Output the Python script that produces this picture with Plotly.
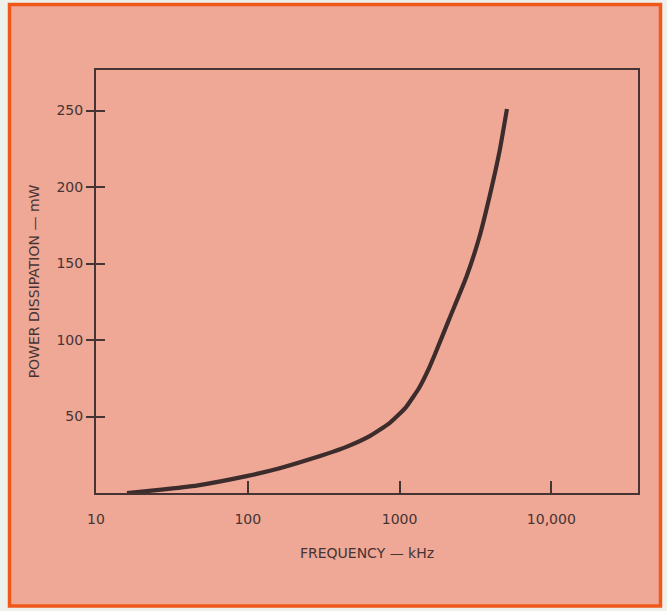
import plotly.graph_objects as go
import math

# Data
freq_khz = [16, 26, 47, 98, 160, 265, 442, 631, 855, 1100, 1350, 1570, 1700, 2130, 2750, 3350, 3920, 4570, 5100]
power_mw = [0, 2, 5, 11, 16, 22.5, 30, 37, 45.5, 56, 69, 82, 90, 114, 141, 167, 194, 224, 251]

x_tickvals = [10, 100, 1000, 10000]
x_ticktext = ["10", "100", "1000", "10,000"]
y_tickvals = [50, 100, 150, 200, 250]
y_ticktext = ["50", "100", "150", "200", "250"]

ink = "#463434"
salmon = "#efa796"
font = dict(family="DejaVu Sans, sans-serif", size=14, color=ink)

fig = go.Figure()
fig.add_trace(go.Scatter(
    x=freq_khz, y=power_mw, mode="lines",
    line=dict(color="#3c2c2c", width=4.2, shape="spline", smoothing=0.5),
    showlegend=False, hoverinfo="skip"))
# invisible trace to activate the overlay axis (inner half of y ticks)
fig.add_trace(go.Scatter(x=[freq_khz[0]], y=[power_mw[0]], yaxis="y2",
                         mode="markers", marker=dict(opacity=0),
                         showlegend=False, hoverinfo="skip"))

L, R, T, B = 96, 29, 70, 118
W, H = 667, 611
pw, ph = W - L - R, H - T - B

def px(xp):
    return (xp - L) / pw

def py(yp):
    return (H - B - yp) / ph

fig.add_shape(type="rect", xref="paper", yref="paper", layer="below",
              x0=px(9.5), x1=px(660.5), y0=py(606), y1=py(4.5),
              fillcolor=salmon, line=dict(color="#f0581a", width=3.5))

yr = [0, 276.5]
fig.update_layout(
    width=W, height=H,
    margin=dict(l=L, r=R, t=T, b=B),
    paper_bgcolor="#eef0ec",
    plot_bgcolor="rgba(0,0,0,0)",
    font=font,
    xaxis=dict(type="log", range=[1.0, 4.571],
               tickvals=x_tickvals, ticktext=x_ticktext,
               ticks="inside", ticklen=12, tickwidth=2, tickcolor=ink,
               showline=True, linecolor=ink, linewidth=2, mirror=True,
               showgrid=False, zeroline=False,
               ticklabelstandoff=12,
               title=dict(text="FREQUENCY — kHz", font=dict(size=14, color=ink), standoff=22)),
    yaxis=dict(range=yr, tickvals=y_tickvals, ticktext=y_ticktext,
               ticks="outside", ticklen=8, tickwidth=2, tickcolor=ink,
               showline=True, linecolor=ink, linewidth=2, mirror=True,
               showgrid=False, zeroline=False,
               title=dict(text="POWER DISSIPATION — mW", font=dict(size=14, color=ink), standoff=14)),
    yaxis2=dict(range=yr, overlaying="y", side="left", tickvals=y_tickvals,
                showticklabels=False, ticks="inside", ticklen=9, tickwidth=2,
                tickcolor=ink, showgrid=False, zeroline=False, showline=False),
)

fig.write_html("out.html", config={"displayModeBar": False},
               post_script="document.body.style.margin='0';document.body.style.background='#eef0ec';")
